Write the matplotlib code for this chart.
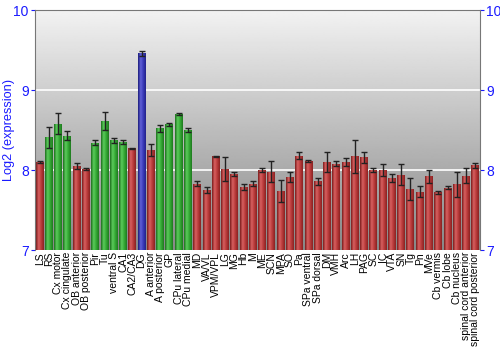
import numpy as np
import matplotlib
matplotlib.use('Agg')
import matplotlib.pyplot as plt
from matplotlib.colors import LinearSegmentedColormap

plt.rcParams['font.family'] = ['Liberation Sans', 'DejaVu Sans']

regions = ['LS', 'RS', 'Cx motor', 'Cx cingulate', 'OB anterior', 'OB posterior',
           'Pir', 'Tu', 'ventral S', 'CA1', 'CA2/CA3', 'DG', 'A anterior', 'A posterior',
           'GP', 'CPu lateral', 'CPu medial', 'MD', 'VA/VL', 'VPM/VPL', 'LG', 'MG', 'Hb',
           'M', 'ME', 'SCN', 'MPA', 'SO', 'Pa', 'SPa ventral', 'SPa dorsal', 'DM', 'VMH',
           'Arc', 'LH', 'PAG', 'SC', 'IC', 'VTA', 'SN', 'Tg', 'Pn', 'MVe', 'Cb vermis',
           'Cb lobe', 'Cb nucleus', 'spinal cord anterior', 'spinal cord posterior']
values = [8.10, 8.41, 8.58, 8.43, 8.05, 8.01, 8.34, 8.61, 8.37, 8.35, 8.27, 9.46,
          8.25, 8.52, 8.57, 8.70, 8.50, 7.83, 7.75, 8.17, 8.01, 7.95, 7.79, 7.83,
          8.00, 7.98, 7.74, 7.91, 8.18, 8.11, 7.86, 8.10, 8.08, 8.10, 8.17, 8.16,
          8.00, 8.00, 7.90, 7.94, 7.76, 7.73, 7.92, 7.72, 7.78, 7.82, 7.93, 8.06]
errors = [0.01, 0.13, 0.13, 0.06, 0.04, 0.01, 0.03, 0.11, 0.03, 0.02, 0.01, 0.03,
          0.07, 0.04, 0.02, 0.01, 0.02, 0.03, 0.04, 0.01, 0.15, 0.025, 0.04, 0.03,
          0.03, 0.13, 0.14, 0.06, 0.045, 0.01, 0.045, 0.13, 0.035, 0.045, 0.21, 0.07,
          0.025, 0.08, 0.045, 0.13, 0.14, 0.07, 0.08, 0.015, 0.015, 0.16, 0.09, 0.03]
# r = red, g = green, b = blue
groups = list('rgggrrggggrbrggggr') + ['r'] * 30

shades = {
    'r': ['#7a1c1c', '#d86060', '#b83a3a', '#8a2222'],
    'g': ['#1c6e1c', '#5ccc5c', '#34a834', '#1f7a1f'],
    'b': ['#1c1c7a', '#6060d8', '#3a3ab8', '#22228a'],
}


def main():
    fig = plt.figure(figsize=(5, 3.5), dpi=100)
    ax = fig.add_axes([0.07, 0.2857, 0.89, 0.6857])
    x = np.arange(len(regions))
    ax.set_xlim(-0.5, len(regions) - 0.5)
    ax.set_ylim(7, 10)

    # background gradient
    bg = np.linspace(0.53, 0.95, 256).reshape(-1, 1)
    ax.imshow(bg, cmap='gray', vmin=0, vmax=1, origin='lower', aspect='auto',
              extent=[-0.5, len(regions) - 0.5, 7, 10], zorder=0)
    for yv in [8, 9]:
        ax.axhline(yv, color='white', lw=1.2, zorder=1)

    bars = ax.bar(x, np.array(values) - 7, bottom=7, width=0.86, color='none',
                  edgecolor='none', zorder=2)
    grad = np.linspace(0, 1, 64).reshape(1, -1)
    for b, g in zip(bars, groups):
        cmap = LinearSegmentedColormap.from_list(g, shades[g])
        im = ax.imshow(grad, cmap=cmap, aspect='auto',
                       extent=[b.get_x(), b.get_x() + b.get_width(), 7, b.get_y() + b.get_height()],
                       zorder=2)
        im.set_clip_path(b)
    ax.errorbar(x, values, yerr=errors, fmt='none', ecolor='#222222', elinewidth=1,
                capsize=2, capthick=1, zorder=3)

    ax.set_xticks(x)
    ax.set_xticklabels(regions, rotation=90, fontsize=7.5)
    ax.tick_params(axis='x', length=0, pad=1.5)
    ax.set_yticks([7, 8, 9, 10])
    ax.tick_params(axis='y', colors='#1a1aff', labelsize=10, length=3, pad=1.5,
                   direction='out', left=True, right=True, labelleft=True, labelright=True)
    ax.set_ylabel('Log2 (expression)', color='#1a1aff', fontsize=9.2)
    ax.yaxis.set_label_coords(-0.044, 0.5)
    for s in ax.spines.values():
        s.set_color('#777777')
    ax.spines['bottom'].set_visible(False)

    fig.savefig('out.png', dpi=100)


if __name__ == '__main__':
    main()
